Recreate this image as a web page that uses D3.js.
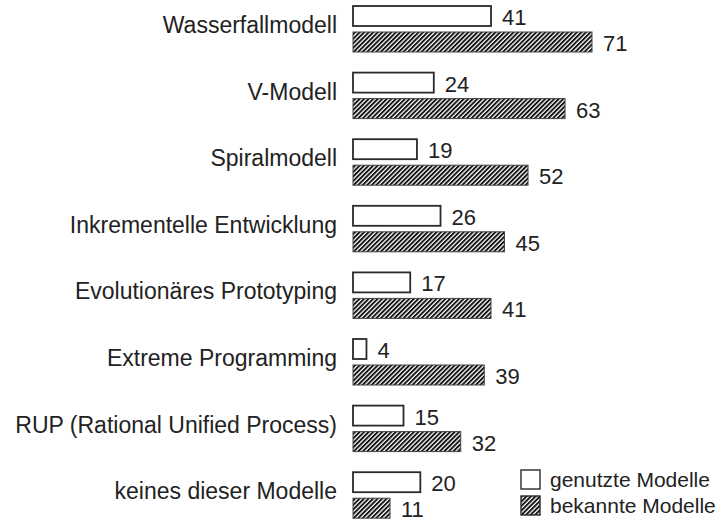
<!DOCTYPE html>
<html>
<head>
<meta charset="utf-8">
<script src="https://cdn.jsdelivr.net/npm/d3@7"></script>
<style>
  body { margin: 0; background: #fff; }
  svg { display: block; font-family: "Liberation Sans", Arial, sans-serif; }
</style>
</head>
<body>
<svg id="chart" width="717" height="524"></svg>
<script>
// values
const categories = [
    'Wasserfallmodell',
    'V-Modell',
    'Spiralmodell',
    'Inkrementelle Entwicklung',
    'Evolutionäres Prototyping',
    'Extreme Programming',
    'RUP (Rational Unified Process)',
    'keines dieser Modelle'
];
const genutzt = [41, 24, 19, 26, 17, 4, 15, 20];
const bekannt = [71, 63, 52, 45, 41, 39, 32, 11];
const seriesNames = ['genutzte Modelle', 'bekannte Modelle'];

const svg = d3.select('#chart');

// diagonal hatch for the "bekannt" bars
const pat = svg.append('defs').append('pattern')
    .attr('id', 'hatch')
    .attr('patternUnits', 'userSpaceOnUse')
    .attr('width', 3.2)
    .attr('height', 3.2)
    .attr('patternTransform', 'rotate(45)');
pat.append('rect').attr('width', 3.2).attr('height', 3.2).attr('fill', '#fff');
pat.append('rect').attr('width', 1.9).attr('height', 3.2).attr('fill', '#111');

const x = d3.scaleLinear().domain([0, 71]).range([353, 592]);
const y = d3.scaleBand()
    .domain(categories)
    .range([6, 6 + 66.6 * categories.length]);

const barH = 20;

const groups = svg.append('g').selectAll('g')
    .data(categories.map((c, i) => ({ c, a: genutzt[i], b: bekannt[i] })))
    .enter().append('g')
    .attr('transform', d => `translate(0,${y(d.c)})`);

groups.append('rect')
    .attr('x', x(0))
    .attr('y', 0)
    .attr('width', d => x(d.a) - x(0))
    .attr('height', barH)
    .attr('fill', '#fff')
    .attr('stroke', '#2a2a2a')
    .attr('stroke-width', 1.8);

groups.append('rect')
    .attr('x', x(0))
    .attr('y', 26)
    .attr('width', d => x(d.b) - x(0))
    .attr('height', barH)
    .attr('fill', 'url(#hatch)')
    .attr('stroke', '#444')
    .attr('stroke-width', 1);

groups.append('text')
    .attr('x', d => x(d.a) + 11)
    .attr('y', 19)
    .attr('font-size', 22)
    .attr('fill', '#222')
    .text(d => d.a);

groups.append('text')
    .attr('x', d => x(d.b) + 11)
    .attr('y', 45)
    .attr('font-size', 22)
    .attr('fill', '#222')
    .text(d => d.b);

groups.append('text')
    .attr('x', 337)
    .attr('y', 27)
    .attr('text-anchor', 'end')
    .attr('font-size', 23)
    .attr('fill', '#222')
    .text(d => d.c);

// legend
const legend = svg.append('g').attr('transform', 'translate(521,470)');
const items = legend.selectAll('g')
    .data(seriesNames)
    .enter().append('g')
    .attr('transform', (d, i) => `translate(0,${i * 26})`);

items.append('rect')
    .attr('width', 19)
    .attr('height', 19)
    .attr('fill', (d, i) => i === 0 ? '#fff' : 'url(#hatch)')
    .attr('stroke', '#2a2a2a')
    .attr('stroke-width', 1.4);

items.append('text')
    .attr('x', 29)
    .attr('y', 17)
    .attr('font-size', 21)
    .attr('fill', '#222')
    .text(d => d);
</script>
</body>
</html>
